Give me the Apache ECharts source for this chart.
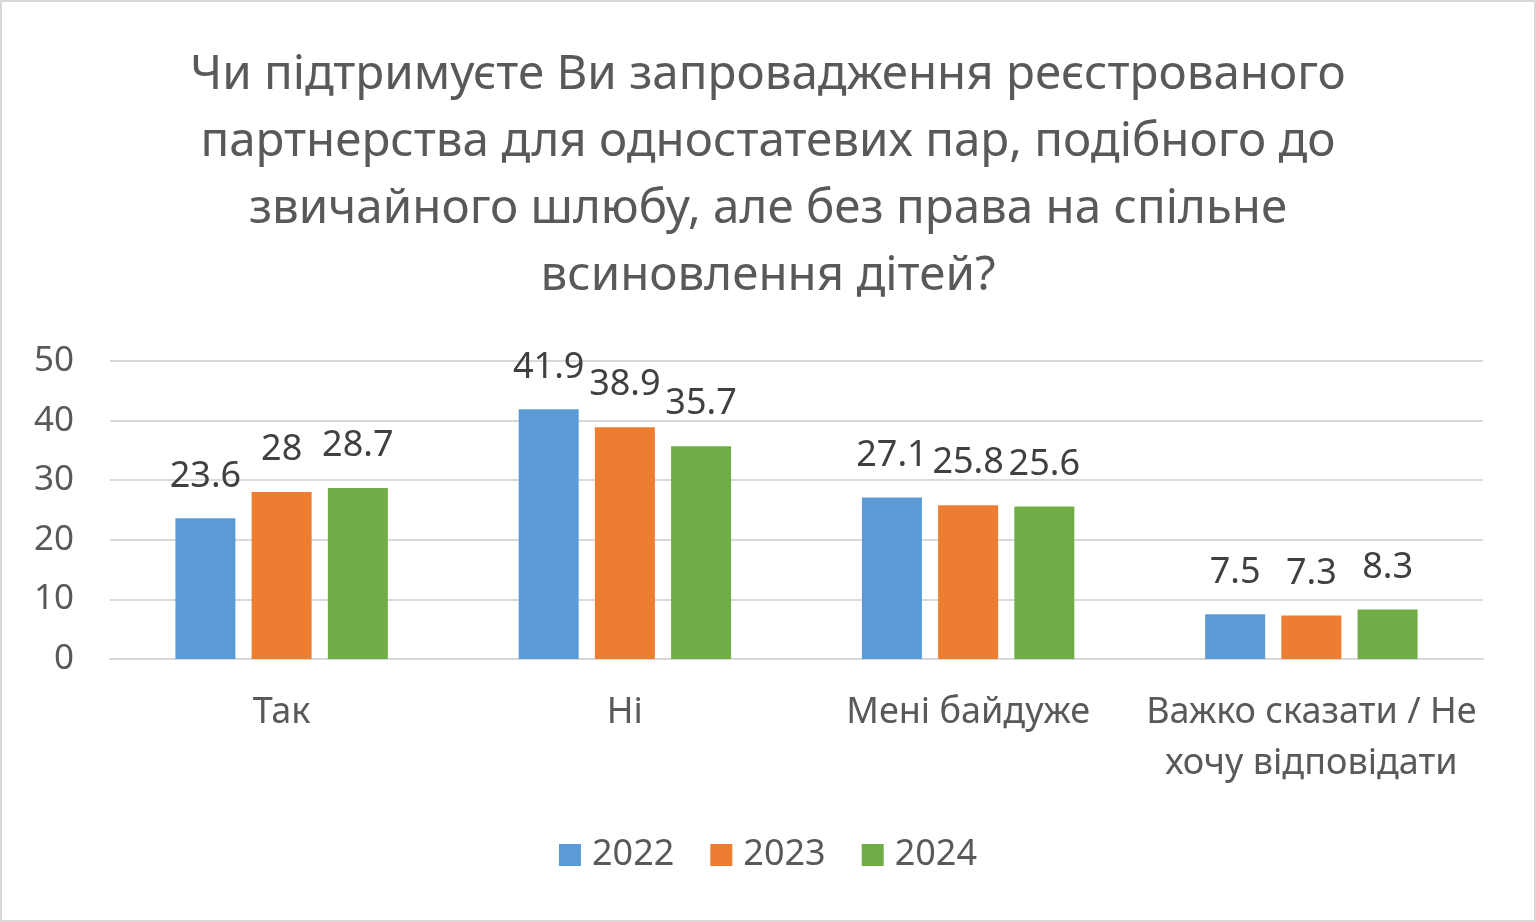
<!DOCTYPE html>
<html><head><meta charset="utf-8">
<script src="https://cdn.jsdelivr.net/npm/echarts@6/dist/echarts.min.js"></script>
<style>html,body{margin:0;padding:0;background:#fff}#c{width:1536px;height:922px;box-sizing:border-box;border:2px solid #d9d9d9}</style>
</head><body><div id="c"></div>
<script>
const titleText = "Чи підтримуєте Ви запровадження реєстрованого\nпартнерства для одностатевих пар, подібного до\nзвичайного шлюбу, але без права на спільне\nвсиновлення дітей?";
const categories = ["Так", "Ні", "Мені байдуже", "Важко сказати / Не\nхочу відповідати"];
const seriesNames = ["2022", "2023", "2024"];
const values2022 = [23.6, 41.9, 27.1, 7.5];
const values2023 = [28, 38.9, 25.8, 7.3];
const values2024 = [28.7, 35.7, 25.6, 8.3];
const colors = ["#5B9BD5", "#ED7D31", "#70AD47"];
const FONT = "'Noto Sans', sans-serif";
const chart = echarts.init(document.getElementById('c'));
const allValues = [values2022, values2023, values2024];
chart.setOption({
  animation: false,
  title: {
    text: titleText, left: 'center', top: 35,
    textStyle: {fontFamily: FONT, fontSize: 47.5, fontWeight: 'normal', color: '#595959', lineHeight: 67}
  },
  legend: {
    bottom: 42, left: 'center', itemWidth: 22, itemHeight: 22, itemGap: 36,
    icon: 'rect',
    textStyle: {fontFamily: FONT, fontSize: 36, color: '#595959', padding: [0, 0, 0, 6]},
    data: seriesNames
  },
  grid: {left: 108, right: 51, top: 359, bottom: 261, containLabel: false},
  xAxis: {
    type: 'category', data: categories,
    axisLine: {show: true, lineStyle: {color: '#d9d9d9', width: 2}},
    axisTick: {show: false},
    axisLabel: {fontFamily: FONT, fontSize: 36, color: '#595959', margin: 28, lineHeight: 51, interval: 0}
  },
  yAxis: {
    type: 'value', min: 0, max: 50, interval: 10,
    axisLine: {show: false}, axisTick: {show: false},
    splitLine: {lineStyle: {color: '#d9d9d9', width: 2}},
    axisLabel: {fontFamily: FONT, fontSize: 35, color: '#595959', margin: 36}
  },
  series: seriesNames.map((n, i) => ({
    name: n, type: 'bar', data: allValues[i],
    barWidth: 60, barGap: '27%',
    itemStyle: {color: colors[i]},
    label: {show: true, position: 'top', distance: 24, fontFamily: FONT, fontSize: 36, color: '#404040'}
  }))
});
</script></body></html>
